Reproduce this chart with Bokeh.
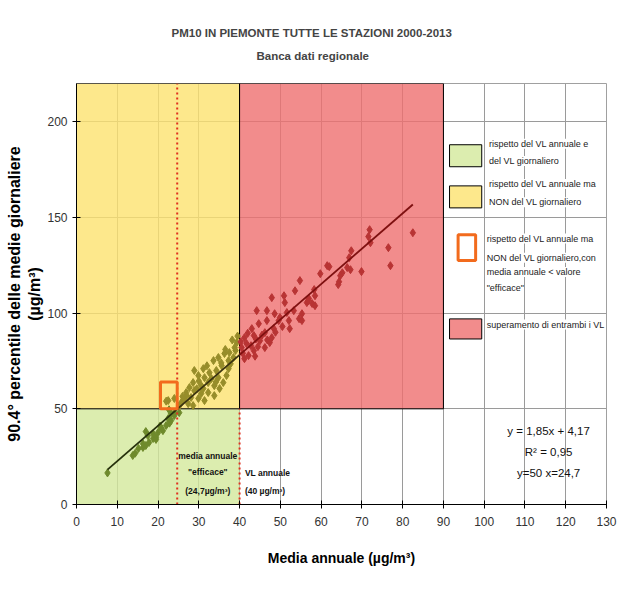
from bokeh.plotting import figure
from bokeh.models import Label, Range1d, FixedTicker, Title
from bokeh.embed import file_html
from bokeh.resources import INLINE

# ---------------- data ----------------
title_lines = ["PM10 IN PIEMONTE TUTTE LE STAZIONI  2000-2013", "Banca dati regionale"]
x_label = "Media annuale (µg/m³)"
y_label = "90.4° percentile delle medie giornaliere\n(µg/m³)"
x_ticks = [0, 10, 20, 30, 40, 50, 60, 70, 80, 90, 100, 110, 120, 130]
y_ticks = [0, 50, 100, 150, 200]

# thresholds
vl_annual = 40.0      # annual limit value
vl_daily = 50.0       # daily limit value
x_efficace = 24.7     # "effective" annual mean
x_max_red = 90.0

# regression
slope = 1.85
intercept = 4.17

# scatter (annual mean, 90.4 percentile of daily means)
pts_x = [
    7.6, 13.8, 14.4, 15.2, 16.3, 16.3, 17.0, 17.8, 17.0, 17.5, 18.8, 18.8, 19.5, 19.5, 20.0,
    20.7, 21.2, 20.5, 22.0, 22.5, 22.8, 23.2, 23.2, 24.0, 24.0, 25.2, 22.7,
    39.3, 38.8, 37.5, 36.3, 38.5, 37.3, 34.8, 33.6, 35.6, 37.3, 34.3, 32.6, 31.1, 28.9, 29.9,
    31.4, 33.1, 34.8, 36.0, 33.8, 32.3, 30.6, 28.6, 27.7, 28.9, 30.6, 32.3, 26.9, 28.1, 29.9,
    26.4, 25.7, 27.4, 22.5, 24.0, 28.6, 31.4, 31.1, 33.8, 35.1, 36.8, 22.0,
    39.5, 38.2, 39.0, 36.5, 35.5, 32.0, 30.0, 27.0, 25.2, 29.5, 34.2, 37.8, 26.0,
    82.5, 71.9, 71.6, 72.1, 76.5, 77.0, 67.4, 66.9, 61.5, 62.0, 66.4, 67.2, 69.9, 65.2, 64.7,
    59.8, 64.4, 64.2, 58.3, 58.5, 57.0, 57.8, 58.5, 56.5, 54.8, 53.6, 47.9, 50.9, 51.1, 56.8,
    53.3, 55.3, 44.2, 46.7, 48.6, 49.9, 51.6, 52.1, 54.6, 55.3, 44.7, 46.7, 49.6, 52.3, 48.4,
    46.2, 43.0, 43.5, 47.9, 47.4, 45.0, 41.2, 41.7, 40.5, 43.5, 46.2, 42.2, 41.2,
    40.8, 42.8, 44.0, 45.5, 44.5, 46.8, 42.0, 40.3, 48.8, 50.5, 43.8,
]
pts_y = [
    16.5, 25.6, 26.8, 29.3, 29.8, 31.8, 30.8, 32.4, 38.1, 36.0, 34.5, 37.0, 35.0, 34.0, 37.6,
    40.2, 38.6, 41.0, 41.3, 44.9, 42.5, 43.9, 47.5, 46.5, 48.0, 48.0, 49.5,
    84.6, 82.0, 79.4, 78.9, 76.8, 75.2, 76.8, 75.2, 72.6, 71.0, 70.0, 68.9, 71.0, 70.0, 67.4,
    66.3, 65.8, 66.3, 63.7, 62.1, 63.7, 62.1, 63.7, 61.1, 59.5, 58.0, 58.5, 58.5, 55.9, 55.4,
    55.4, 53.3, 52.7, 54.3, 55.4, 51.7, 54.3, 60.6, 56.9, 60.6, 67.4, 54.0,
    88.0, 86.0, 80.5, 81.0, 74.0, 72.5, 64.5, 57.0, 51.5, 60.5, 64.0, 73.5, 56.5,
    142.0, 143.6, 140.0, 136.8, 134.2, 124.8, 132.6, 129.0, 124.8, 124.3, 123.8, 122.7, 121.7, 121.1, 119.6,
    120.6, 116.4, 114.9, 112.3, 109.1, 107.6, 105.0, 103.9, 105.5, 117.0, 111.7, 108.1, 109.1, 105.5, 106.5,
    101.3, 99.7, 101.3, 101.3, 99.7, 97.7, 100.3, 96.1, 97.1, 96.1, 94.5, 96.1, 96.1, 91.9, 91.9,
    89.8, 91.9, 88.3, 87.2, 84.6, 85.6, 87.2, 84.1, 82.0, 80.4, 82.0, 77.8, 76.2,
    79.0, 83.0, 86.5, 88.5, 82.5, 86.0, 89.5, 85.0, 90.0, 93.0, 77.5,
]

legend_texts = [
    ["rispetto del VL annuale  e", "del VL giornaliero"],
    ["rispetto del VL annuale ma", "NON del VL giornaliero"],
    ["rispetto del VL annuale ma", "NON del VL giornaliero,con", "media   annuale  <  valore", "\"efficace\""],
    ["superamento di entrambi i VL"],
]

# ---------------- styles ----------------
FONT = "Liberation Sans"
GREEN = "#d3e99b"
YELLOW = "#fce26f"
RED = "#ef6f6f"
ALPHA = 0.8
ORANGE = "#f26b1d"
DOT_RED = "#e0301e"

p = figure(width=623, height=592, x_range=Range1d(0, 130), y_range=Range1d(0, 220),
           title=None, output_backend="svg", toolbar_location=None,
           min_border_left=76, min_border_right=17, min_border_top=83, min_border_bottom=88)
p.background_fill_color = "white"
p.border_fill_color = "white"
p.outline_line_color = "#a0a0a0"

p.xaxis.ticker = FixedTicker(ticks=x_ticks)
p.yaxis.ticker = FixedTicker(ticks=y_ticks)
p.xgrid.ticker = FixedTicker(ticks=x_ticks)
p.ygrid.ticker = FixedTicker(ticks=y_ticks)
p.xgrid.grid_line_color = "#9a9a9a"
p.ygrid.grid_line_color = "#9a9a9a"
for ax in (p.xaxis[0], p.yaxis[0]):
    ax.axis_line_color = "black"
    ax.major_tick_line_color = "black"
    ax.major_tick_in = 4
    ax.major_tick_out = 4
    ax.minor_tick_line_color = None
    ax.major_label_text_font = FONT
    ax.major_label_text_font_size = "12px"
    ax.major_label_text_color = "#333333"
    ax.axis_label_text_font = FONT
    ax.axis_label_text_font_style = "bold"
    ax.axis_label_text_color = "black"
p.xaxis.major_label_standoff = 8
p.yaxis.major_label_standoff = 5
p.xaxis.axis_label = x_label
p.xaxis.axis_label_text_font_size = "14px"
p.xaxis.axis_label_standoff = 21
p.yaxis.axis_label = y_label
p.yaxis.axis_label_text_font_size = "16px"
p.yaxis.axis_label_standoff = 1

# titles
sub = Title(text=title_lines[1], align="left", offset=180, text_font=FONT, text_font_size="11.5px",
            text_font_style="bold", standoff=44)
try:
    main = Title(text=title_lines[0], align="left", offset=95, text_font=FONT, text_font_size="11.5px",
                 text_font_style="bold", standoff=-26)
except ValueError:
    main = Title(text=title_lines[0], align="left", offset=95, text_font=FONT, text_font_size="11.5px",
                 text_font_style="bold", standoff=0)
p.add_layout(sub, "above")
p.add_layout(main, "above")

# --------------- split points by zone -------------
gx, gy, yx, yy, rx, ry = [], [], [], [], [], []
for xv, yv in zip(pts_x, pts_y):
    if yv < vl_daily:
        gx.append(xv); gy.append(yv)
    elif xv < vl_annual:
        yx.append(xv); yy.append(yv)
    else:
        rx.append(xv); ry.append(yv)

# regions (semi-transparent so gridlines show through)
p.quad(left=[0], right=[vl_annual], bottom=[0], top=[vl_daily], fill_color=GREEN, fill_alpha=ALPHA,
       line_color=None)
p.quad(left=[0], right=[vl_annual], bottom=[vl_daily], top=[220], fill_color=YELLOW, fill_alpha=ALPHA,
       line_color="black", line_width=1)
p.quad(left=[vl_annual], right=[x_max_red], bottom=[vl_daily], top=[220], fill_color=RED, fill_alpha=ALPHA,
       line_color="black", line_width=1)

p.scatter(gx, gy, marker="diamond", size=8, color="#6f8a2c")
p.scatter(yx, yy, marker="diamond", size=8, color="#978d2a")
p.scatter(rx, ry, marker="diamond", size=8, color="#b83434")

# trend line
x0, x1 = min(pts_x), max(pts_x)
segs = [(x0, x_efficace, "#26300c"), (x_efficace, vl_annual, "#3a3210"), (vl_annual, x1, "#7e1010")]
for a, b, c in segs:
    p.line([a, b], [slope * a + intercept, slope * b + intercept], line_color=c, line_width=1.8)

# dotted red lines
p.line([x_efficace, x_efficace], [0, 220], line_color=DOT_RED, line_width=2, line_dash="2 3")
p.line([vl_annual, vl_annual], [0, vl_daily], line_color=DOT_RED, line_width=2, line_dash="2 3")

# orange "efficace" box
p.quad(left=[20.6], right=[x_efficace], bottom=[vl_daily], top=[64.0], fill_color=None,
       line_color=ORANGE, line_width=3)

# --------------- legend (drawn inside plot) -------------
sw = [
    dict(l=91.5, r=99.4, b=176.5, t=188.0, fill=GREEN, line="black", lw=1),
    dict(l=91.5, r=99.4, b=155.0, t=166.5, fill=YELLOW, line="black", lw=1),
    dict(l=93.6, r=97.9, b=127.5, t=141.0, fill=None, line=ORANGE, lw=3),
    dict(l=91.5, r=99.4, b=86.5, t=97.0, fill=RED, line="black", lw=1),
]
for s in sw:
    if s["fill"]:
        p.quad(left=[s["l"]], right=[s["r"]], bottom=[s["b"]], top=[s["t"]], fill_color=s["fill"],
               fill_alpha=ALPHA, line_color=s["line"], line_width=s["lw"])
    else:
        p.quad(left=[s["l"]], right=[s["r"]], bottom=[s["b"]], top=[s["t"]], fill_color="white",
               line_color=s["line"], line_width=s["lw"])

leg_pos = [(101.2, [188.5, 179.5]), (101.2, [167.5, 158.0]), (100.6, [139.0, 129.0, 121.5, 113.0]),
           (100.6, [94.0])]
for (lx, ys), lines in zip(leg_pos, legend_texts):
    for ly, t in zip(ys, lines):
        p.add_layout(Label(x=lx, y=ly, text=t, text_font=FONT, text_font_size="9px",
                           text_color="#222222", text_baseline="middle",
                           background_fill_color="white"))

# --------------- annotations -------------
def lab(x, y, t, size, bold=False, align="center"):
    p.add_layout(Label(x=x, y=y, text=t, text_font=FONT, text_font_size=size,
                       text_font_style="bold" if bold else "normal", text_align=align,
                       text_baseline="middle", text_color="#111111"))

lab(32.2, 25.5, "media annuale", "8.5px", bold=True)
lab(32.2, 17.2, "\"efficace\"", "8.5px", bold=True)
lab(32.2, 7.3, "(24,7µg/m³)", "8.5px", bold=True)
lab(41.3, 16.7, "VL annuale", "8.5px", bold=True, align="left")
lab(41.3, 7.3, "(40 µg/m³)", "8.5px", bold=True, align="left")

lab(115.8, 38.6, "y = 1,85x + 4,17", "11.5px")
lab(115.8, 27.2, "R² = 0,95", "11.5px")
lab(115.8, 16.2, "y=50 x=24,7", "11.5px")

open("out.html", "w").write(file_html(p, INLINE))
